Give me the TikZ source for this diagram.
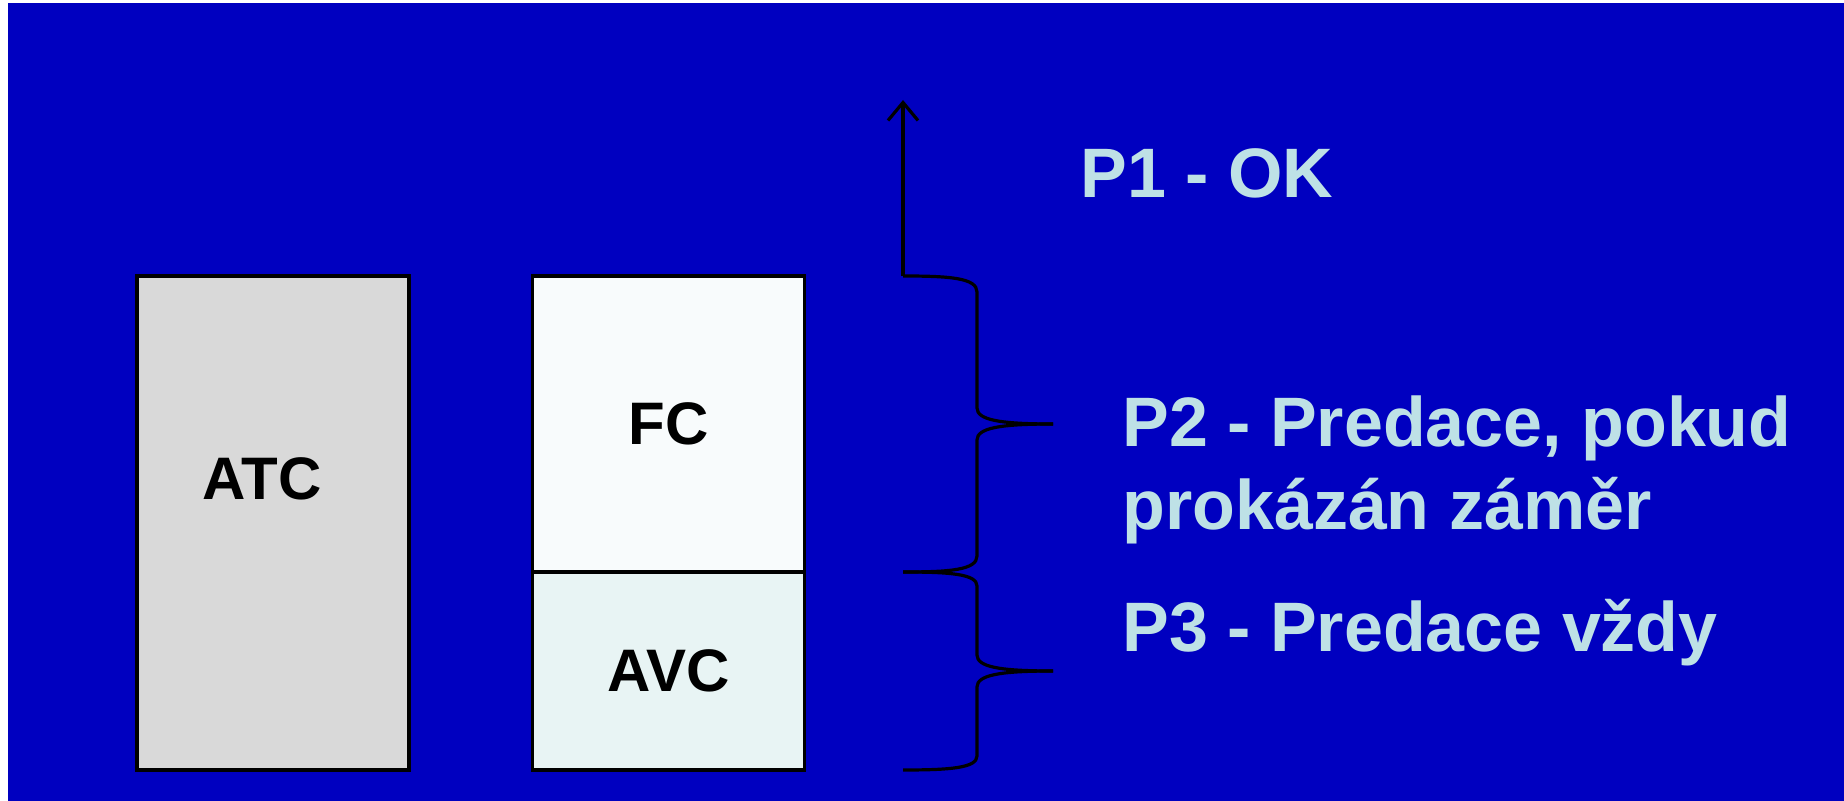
\documentclass[tikz,border=0pt]{standalone}
\usepackage{fontspec}
\setmainfont{Liberation Sans}
\usetikzlibrary{arrows.meta,positioning}
\definecolor{slideblue}{RGB}{0,0,192}
\definecolor{atcgray}{RGB}{217,217,217}
\definecolor{fcwhite}{RGB}{248,251,252}
\definecolor{avcmint}{RGB}{232,244,244}
\definecolor{ptextcol}{RGB}{190,225,230}

\begin{document}
\begin{tikzpicture}[x=0.5pt, y=-0.5pt,
    costbox/.style={draw, line width=1.9pt, minimum width=136pt, inner sep=0pt, outer sep=0pt, font=\fontsize{30}{36}\selectfont\bfseries},
    boxlabel/.style={inner sep=0pt, font=\fontsize{30}{36}\selectfont\bfseries},
    ptext/.style={text=ptextcol, inner sep=0pt, align=left, font=\fontsize{35}{41.5}\selectfont\bfseries},
    bracket/.style={line width=1.6pt}]
    \useasboundingbox (0,0) rectangle (1844,801);
    \fill[white] (0,0) rectangle (1844,801);
    \fill[slideblue] (8,3) rectangle (1844,801);

    % cost boxes
    \node[costbox, fill=atcgray, minimum height=247pt] (atc) at (273,523) {};
    \node[boxlabel] (atclabel) at (262,479) {ATC};
    \node[costbox, fill=fcwhite, minimum height=148pt] (fc) at (668.5,424) {FC};
    \node[costbox, fill=avcmint, minimum height=99pt, below=0pt of fc] (avc) {AVC};

    % brace ends and arrow
    \coordinate (b1top) at (903,276);
    \coordinate (b1tip) at (1053,424);
    \coordinate (b1mid) at (903,572);
    \coordinate (b2tip) at (1053,671);
    \coordinate (b2bot) at (903,770);
    \coordinate (arrowtip) at (903,100);

    \draw[bracket, -{Straight Barb[length=9pt,width=15pt]}] (b1top) -- (arrowtip);

    \draw[bracket] (b1top) .. controls (950,276) and (977,278) .. (977,292) -- (977,408) .. controls (977,420) and (1000,424) .. (b1tip);
    \draw[bracket] (b1tip) .. controls (1000,424) and (977,428) .. (977,440) -- (977,556) .. controls (977,570) and (950,572) .. (b1mid);
    \draw[bracket] (b1mid) .. controls (950,572) and (977,574) .. (977,586) -- (977,655) .. controls (977,667) and (1000,671) .. (b2tip);
    \draw[bracket] (b2tip) .. controls (1000,671) and (977,675) .. (977,687) -- (977,756) .. controls (977,768) and (950,770) .. (b2bot);

    % texts
    \node[ptext, anchor=base west] (p1) at (1080,198) {P1 - OK};
    \node[ptext, anchor=base west] (p2) at (1122,530) {P2 - Predace, pokud\\prokázán záměr};
    \node[ptext, anchor=base west] (p3) at (1122,652) {P3 - Predace vždy};
\end{tikzpicture}
\end{document}
